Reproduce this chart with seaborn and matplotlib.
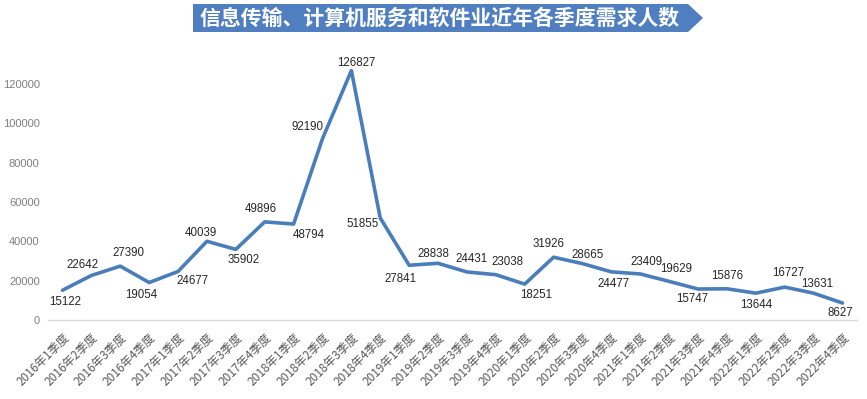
import pandas as pd
import matplotlib.pyplot as plt
import seaborn as sns
from matplotlib.patches import Polygon

# ---- Data ----
quarters = [f"{y}年{q}季度" for y in range(2016, 2023) for q in range(1, 5)]
demand = [15122, 22642, 27390, 19054,
          24677, 40039, 35902, 49896,
          48794, 92190, 126827, 51855,
          27841, 28838, 24431, 23038,
          18251, 31926, 28665, 24477,
          23409, 19629, 15747, 15876,
          13644, 16727, 13631, 8627]
# label offsets in pixels (dx right, dy down) relative to each point
label_dx = [3, -9, 8, -8, 14, -6, 8, -4, 15, -15, 5, -18, -9, -5,
            5, 12, 11, -5, 5, 2, 6, 7, -6, 0, 0, 3, 4, -2]
label_dy = [12, -10, -13, 12, 10, -8, 11, -13, 11, -12, -8, 6, 14, -9,
            -13, -13, 11, -13, -9, 12, -12, -12, 10, -13, 12, -14, -9, 10]

df = pd.DataFrame({"quarter": quarters, "demand": demand})

# ---- Plot Style ----
sns.set_theme(style="white")
plt.rcParams['font.family'] = ['Liberation Sans', 'Noto Sans CJK SC', 'DejaVu Sans']

fig = plt.figure(figsize=(8.67, 3.99), dpi=100)
ax = fig.add_axes([0.0554, 0.198, 0.933, 0.690])

sns.lineplot(data=df, x="quarter", y="demand", color="#4a7ebb",
             linewidth=2.6, ax=ax, sort=False)

for i, v in enumerate(demand):
    ax.annotate(str(v), (i, v), xytext=(label_dx[i] * 0.72, -label_dy[i] * 0.72),
                textcoords="offset points", ha="center", va="center",
                fontsize=8.3, color="#262626")

ax.set_xlim(-0.5, len(quarters) - 0.5)
ax.set_ylim(0, 140000)
ax.set_yticks(range(0, 140000, 20000))
ax.set_xlabel("")
ax.set_ylabel("")
ax.tick_params(axis='y', length=0, pad=6, labelsize=8, labelcolor="#7f7f7f")
ax.tick_params(axis='x', length=0, pad=8)
for lbl in ax.get_xticklabels():
    lbl.set_rotation(45)
    lbl.set_ha("right")
    lbl.set_rotation_mode("anchor")
    lbl.set_fontsize(8.5)
    lbl.set_color("#595959")
    lbl.set_family(['Noto Sans CJK SC', 'DejaVu Sans'])
for s in ["top", "right", "left"]:
    ax.spines[s].set_visible(False)
ax.spines["bottom"].set_color("#d9d9d9")
ax.spines["bottom"].set_linewidth(1)

# ---- Title banner ----
W, H = 867, 399
banner = [(193, 4), (688, 4), (703, 18), (688, 32), (193, 32)]
fig.add_artist(Polygon([(x / W, 1 - y / H) for x, y in banner], closed=True,
                       transform=fig.transFigure, facecolor="#4f7fc0", edgecolor="none"))
fig.text(440 / W, 1 - 18 / H, "信息传输、计算机服务和软件业近年各季度需求人数",
         ha="center", va="center", fontsize=15, color="white", fontweight="bold",
         family=['Noto Sans CJK SC', 'DejaVu Sans'])

plt.savefig("out.png", dpi=100)
